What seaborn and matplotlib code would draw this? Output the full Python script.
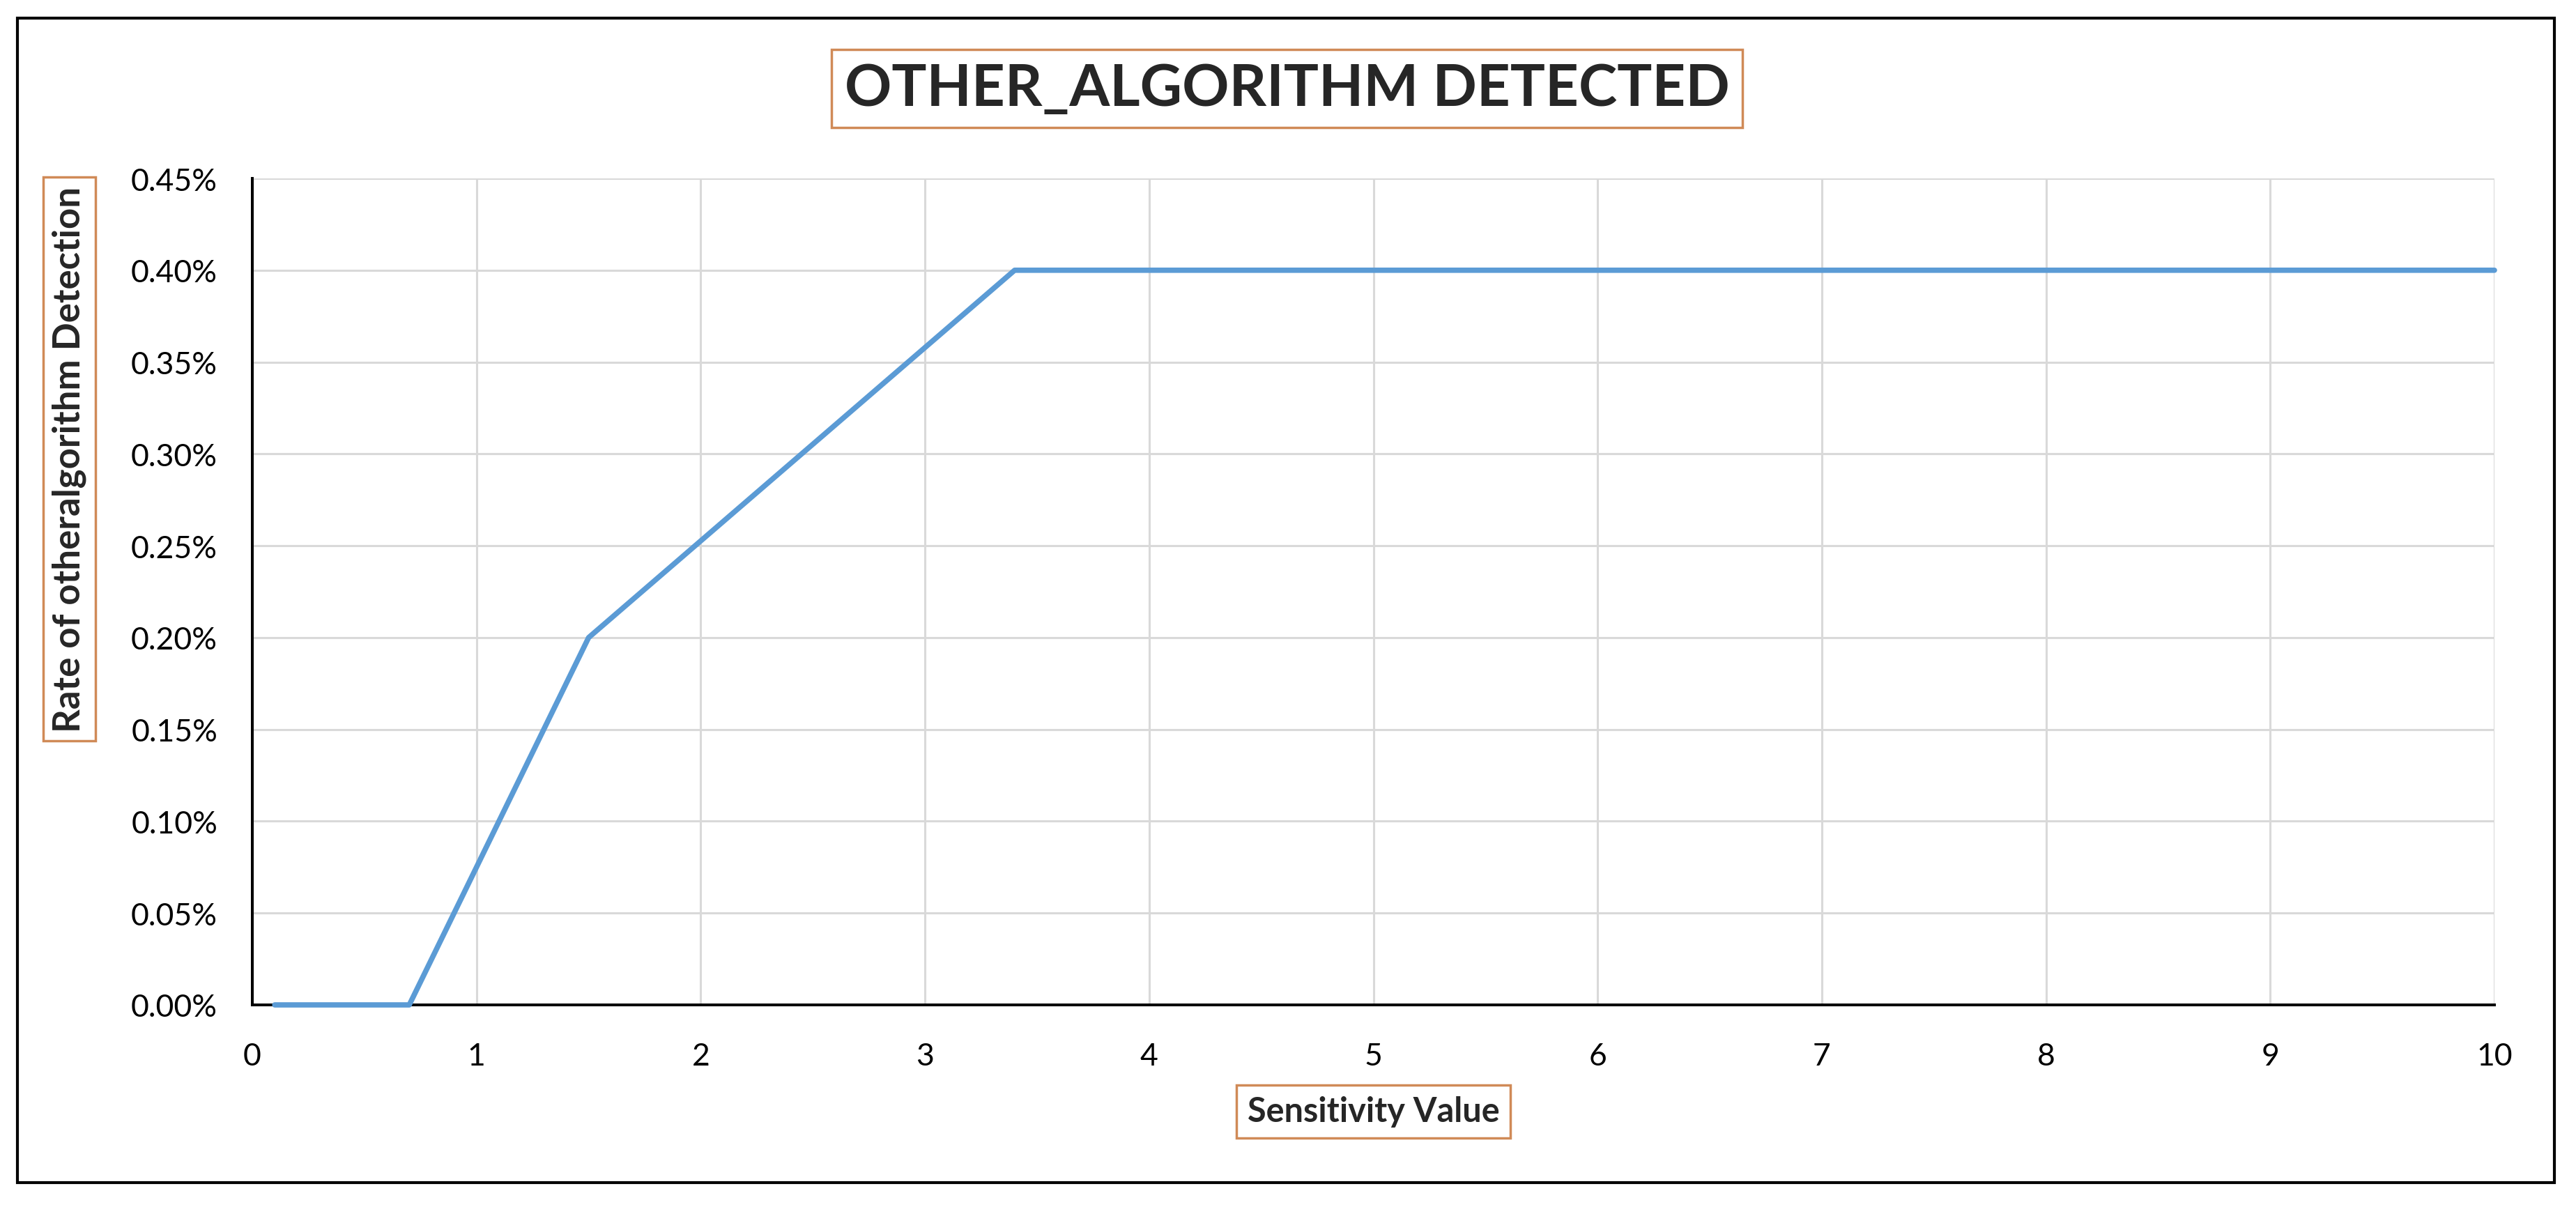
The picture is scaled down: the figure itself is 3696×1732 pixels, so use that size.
import numpy as np
import matplotlib
matplotlib.use('Agg')
import matplotlib.pyplot as plt
from matplotlib.patches import Rectangle
import pandas as pd
import seaborn as sns

# values (rate in %)
sensitivity = [0.1, 0.7, 1.5, 3.4, 10.0]
rate_pct = [0.00, 0.00, 0.20, 0.40, 0.40]
x_ticks = [0, 1, 2, 3, 4, 5, 6, 7, 8, 9, 10]
y_ticks = [0.00, 0.05, 0.10, 0.15, 0.20, 0.25, 0.30, 0.35, 0.40, 0.45]

title = 'OTHER_ALGORITHM DETECTED'
xlabel = 'Sensitivity Value'
ylabel = 'Rate of otheralgorithm Detection'

sns.set_style('white')
plt.rcParams['font.family'] = ['Lato', 'DejaVu Sans']

W, H = 3696, 1733
fig = plt.figure(figsize=(W / 100, H / 100), dpi=100)
ax = fig.add_axes([362 / W, 1 - 1443 / H, (3579 - 362) / W, (1443 - 257) / H])

df = pd.DataFrame({'x': sensitivity, 'y': rate_pct})
sns.lineplot(data=df, x='x', y='y', ax=ax, color='#5B9BD5', lw=5.5,
             zorder=3, clip_on=False)

ax.set_xlim(0, 10)
ax.set_ylim(0, 0.45)
ax.set_xticks(x_ticks)
ax.set_yticks(y_ticks)
ax.set_xticklabels([str(t) for t in x_ticks])
ax.set_yticklabels(['%.2f%%' % t for t in y_ticks])
ax.tick_params(axis='both', length=0, labelsize=32, colors='black')
ax.tick_params(axis='x', pad=38)
ax.tick_params(axis='y', pad=36)

ax.grid(True, color='#D9D9D9', lw=2.2)
ax.set_axisbelow(True)
ax.spines[['top', 'right']].set_visible(False)
for s in ['left', 'bottom']:
    ax.spines[s].set_color('black')
    ax.spines[s].set_linewidth(2.9)

box_col = '#D08A57'
ax.set_xlabel(xlabel, fontsize=35, fontweight='bold', va='center', ha='center',
              bbox=dict(boxstyle='square,pad=0.32', fc='white', ec=box_col, lw=2.5))
ax.xaxis.set_label_coords(0.5, -0.129)
ax.set_ylabel(ylabel, fontsize=38, fontweight='bold', va='center', ha='center',
              bbox=dict(boxstyle='square,pad=0.24', fc='white', ec=box_col, lw=2.5))
ax.yaxis.set_label_coords(-0.0816, 0.6606)

fig.text(0.4996, 1 - 128 / H, title, fontsize=60, fontweight='bold',
         ha='center', va='center',
         bbox=dict(boxstyle='square,pad=0.22', fc='white', ec=box_col, lw=2.5))

# outer frame
fig.patches.append(Rectangle((25 / W, 1 - 1698 / H), (3665 - 25) / W, (1698 - 27) / H,
                             transform=fig.transFigure, fill=False, ec='black', lw=3))

fig.savefig('out.png', dpi=100, facecolor='white')
